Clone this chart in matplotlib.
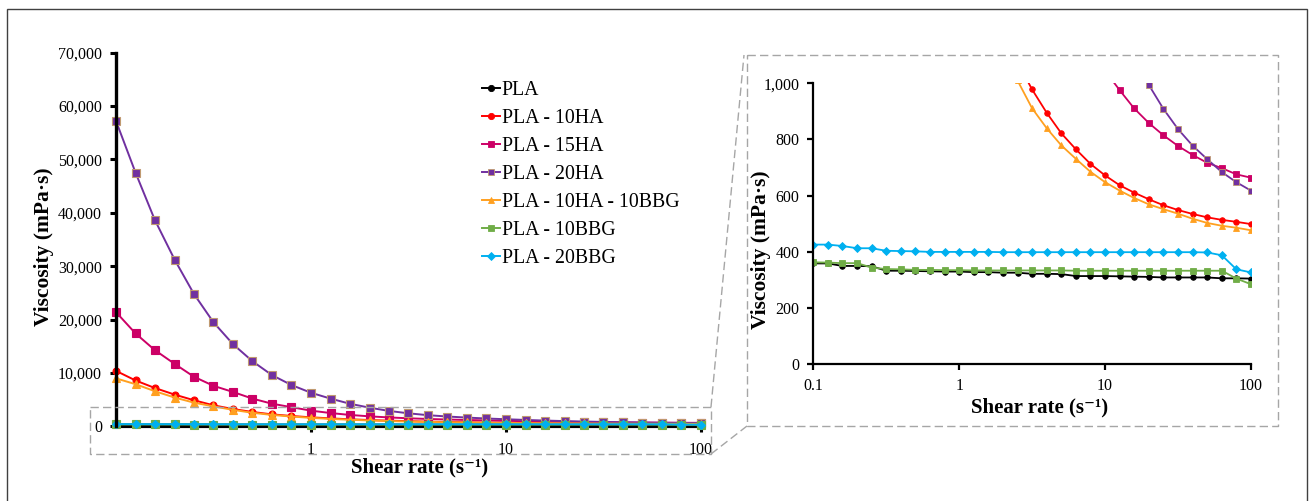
import matplotlib
matplotlib.use('Agg')
import matplotlib.pyplot as plt
from matplotlib.lines import Line2D
from matplotlib.patches import Rectangle
import matplotlib.ticker as mticker

plt.rcParams['font.family'] = ['Liberation Serif', 'DejaVu Serif']

# ---------------- data ----------------
shear_rate = [0.1, 0.126, 0.158, 0.2, 0.251, 0.316, 0.398, 0.501, 0.631, 0.794,
              1, 1.26, 1.58, 2, 2.51, 3.16, 3.98, 5.01, 6.31, 7.94,
              10, 12.6, 15.8, 20, 25.1, 31.6, 39.8, 50.1, 63.1, 79.4, 100]

pla = [359, 359, 350, 350, 349, 333, 333, 332, 331, 330,
       330, 328, 328, 326, 326, 322, 322, 321, 314, 314,
       314, 313, 312, 311, 309, 309, 309, 309, 306, 306, 305]
pla_10ha = [10400, 8600, 7200, 5950, 4900, 3950, 3250, 2700, 2250, 1950,
            1700, 1500, 1330, 1190, 1075, 978, 895, 822, 765, 713,
            672, 637, 611, 587, 566, 549, 535, 523, 514, 507, 499]
pla_15ha = [21400, 17400, 14300, 11700, 9300, 7600, 6450, 5200, 4250, 3600,
            2950, 2500, 2150, 1880, 1680, 1520, 1390, 1290, 1200, 1120,
            1045, 975, 911, 858, 815, 777, 745, 717, 698, 676, 664]
pla_20ha = [57200, 47500, 38700, 31200, 24800, 19500, 15400, 12200, 9600, 7750,
            6300, 5200, 4250, 3500, 2900, 2450, 2100, 1850, 1650, 1480,
            1340, 1210, 1095, 993, 909, 837, 778, 730, 684, 648, 618]
pla_10ha_10bbg = [9000, 7900, 6600, 5400, 4450, 3750, 3100, 2550, 2150, 1850,
                  1600, 1400, 1250, 1110, 1010, 911, 840, 779, 731, 685,
                  648, 618, 592, 569, 552, 536, 518, 503, 493, 486, 477]
pla_10bbg = [363, 362, 360, 360, 344, 339, 338, 336, 336, 335,
             335, 334, 334, 334, 334, 334, 334, 334, 333, 333,
             333, 333, 333, 333, 333, 333, 333, 333, 333, 305, 285]
pla_20bbg = [426, 426, 421, 413, 413, 404, 403, 402, 400, 400,
             400, 400, 400, 399, 399, 399, 399, 399, 399, 399,
             399, 399, 399, 399, 399, 399, 399, 398, 388, 338, 327]

labels = ['PLA', 'PLA - 10HA', 'PLA - 15HA', 'PLA - 20HA',
          'PLA - 10HA - 10BBG', 'PLA - 10BBG', 'PLA - 20BBG']
series = [pla, pla_10ha, pla_15ha, pla_20ha, pla_10ha_10bbg, pla_10bbg, pla_20bbg]
colors = ['#000000', '#ff0000', '#cc0066', '#7030a0', '#ffa020', '#70ad47', '#00b0f0']
markers = ['o', 'o', 's', 's', '^', 's', 'D']
edges = ['#000000', '#ff0000', '#cc0066', '#c09a70', '#ffa020', '#70ad47', '#00b0f0']
left_yticks = [0, 10000, 20000, 30000, 40000, 50000, 60000, 70000]
left_xticks = [1, 10, 100]
right_yticks = [0, 200, 400, 600, 800, 1000]
right_xticks = [0.1, 1, 10, 100]

# ---------------- layout ----------------
W, H = 1309, 501
fig = plt.figure(figsize=(W / 100, H / 100), dpi=100)


def fx(x):
    return x / W


def fy(y):
    return 1 - y / H


def axes_px(x0, y0, x1, y1):
    return [fx(x0), fy(y1), (x1 - x0) / W, (y1 - y0) / H]


thou = mticker.FuncFormatter(lambda v, p: f'{v:,.0f}')

# left chart
ax1 = fig.add_axes(axes_px(116, 52.6, 701, 426.4))
ax1.set_xscale('log')
for s, c, m, e, lab in zip(series, colors, markers, edges, labels):
    ms = {'s': 5.2, 'o': 5.0, '^': 5.5, 'D': 4.5}[m]
    if lab == 'PLA':
        ms = 4.2
    ax1.plot(shear_rate, s, color=c, marker=m, markersize=ms, markerfacecolor=c,
             markeredgecolor=e, markeredgewidth=0.8, linewidth=1.4,
             clip_on=False, label=lab)
ax1.set_xlim(0.1, 100)
ax1.set_ylim(0, 70000)
ax1.set_yticks(left_yticks)
ax1.yaxis.set_major_formatter(thou)
ax1.set_xticks(left_xticks)
ax1.set_xticklabels([str(v) for v in left_xticks])
ax1.xaxis.set_minor_locator(mticker.NullLocator())
for sp in ['top', 'right']:
    ax1.spines[sp].set_visible(False)
ax1.spines['left'].set_linewidth(2.4)
ax1.spines['bottom'].set_linewidth(3.0)
ax1.spines['bottom'].set_zorder(1.5)
ax1.tick_params(axis='both', direction='out', length=4, width=2.2, labelsize=11.5,
                colors='black')
ax1.tick_params(axis='y', pad=6)
ax1.tick_params(axis='x', pad=7)

handles = [Line2D([0], [0], color=c, marker=m, markersize=4.5, markerfacecolor=c,
                  markeredgecolor=e, markeredgewidth=0.6, linewidth=1.4)
           for c, m, e in zip(colors, markers, edges)]
fig.legend(handles, labels, loc='upper left', bbox_to_anchor=(fx(482), fy(81)),
           frameon=False, fontsize=14.3, handlelength=0.9, handletextpad=0.1,
           borderpad=0, borderaxespad=0, labelspacing=0.45)

# right chart
ax2 = fig.add_axes(axes_px(813.3, 83.3, 1251, 364.3))
ax2.set_xscale('log')
for s, c, m, e, lab in zip(series, colors, markers, edges, labels):
    ms = 3.8 if m == 'D' else 4.0
    ax2.plot(shear_rate, s, color=c, marker=m, markersize=ms, markerfacecolor=c,
             markeredgecolor=e, markeredgewidth=0.6, linewidth=1.3)
ax2.set_xlim(0.1, 100)
ax2.set_ylim(0, 1000)
ax2.set_yticks(right_yticks)
ax2.yaxis.set_major_formatter(thou)
ax2.set_xticks(right_xticks)
ax2.set_xticklabels([f'{v:g}' for v in right_xticks])
ax2.xaxis.set_minor_locator(mticker.NullLocator())
for sp in ['top', 'right']:
    ax2.spines[sp].set_visible(False)
for sp in ['left', 'bottom']:
    ax2.spines[sp].set_linewidth(1.6)
ax2.tick_params(axis='both', direction='out', length=4, width=1.6, labelsize=11.5,
                colors='black')
ax2.tick_params(axis='y', pad=6)
ax2.tick_params(axis='x', pad=6)

# axis titles
xlab = 'Shear rate (s\u207b\u00b9)'
ylab = 'Viscosity (mPa\u00b7s)'
fig.text(fx(420), fy(467), xlab, ha='center', va='center', fontsize=15, fontweight='bold')
fig.text(fx(44), fy(247), ylab, ha='center', va='center', rotation=90, fontsize=15.5,
         fontweight='bold')
fig.text(fx(1040), fy(407), xlab, ha='center', va='center', fontsize=15, fontweight='bold')
fig.text(fx(761), fy(250), ylab, ha='center', va='center', rotation=90, fontsize=15.5,
         fontweight='bold')

# zoom indication (dashed boxes and connectors)
dash_kw = dict(color='#a6a6a6', linewidth=1.0, linestyle=(0, (6, 3)),
               transform=fig.transFigure)


def box(x0, y0, x1, y1):
    xs = [x0, x1, x1, x0, x0]
    ys = [y0, y0, y1, y1, y0]
    fig.add_artist(Line2D([fx(v) for v in xs], [fy(v) for v in ys], **dash_kw))


box(90, 407, 711, 454)
box(747, 55, 1278, 426)
fig.add_artist(Line2D([fx(711), fx(744)], [fy(407), fy(55)], **dash_kw))
fig.add_artist(Line2D([fx(711), fx(747)], [fy(454), fy(426)], **dash_kw))

# outer frame
fig.add_artist(Rectangle((fx(7), fy(503)), fx(1307) - fx(7), fy(9) - fy(503),
                         transform=fig.transFigure, fill=False, edgecolor='#404040',
                         linewidth=1.0))

fig.savefig('out.png', dpi=100)
